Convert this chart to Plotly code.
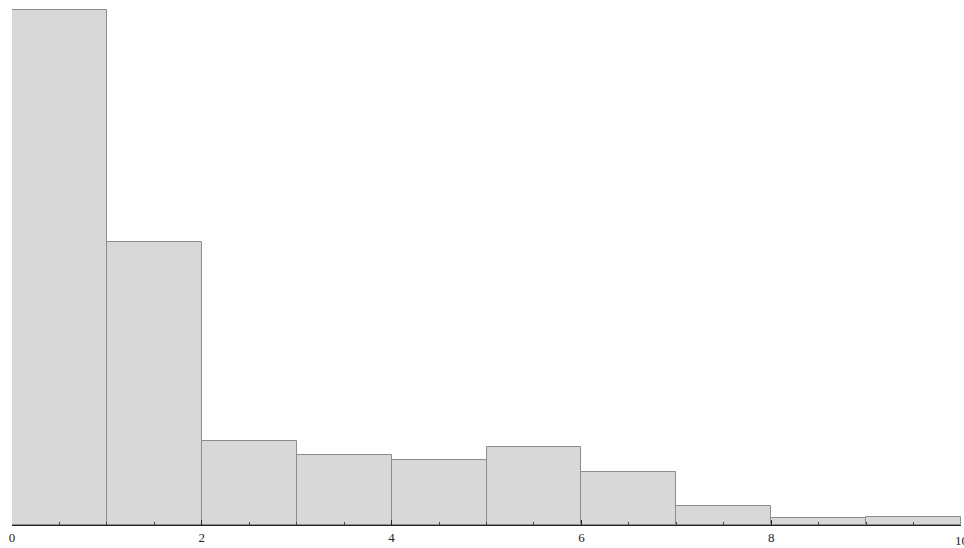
import plotly.graph_objects as go

bin_starts = [0, 1, 2, 3, 4, 5, 6, 7, 8, 9]
bin_width = 1
counts = [515.5, 283, 84, 70, 65, 78, 53, 19.5, 7, 8.5]
tick_values = [0, 2, 4, 6, 8, 10]
tick_labels = ["0", "2", "4", "6", "8", "10"]

centers = [s + bin_width / 2 for s in bin_starts]
font = dict(family="Liberation Serif", size=13, color="#222222")

fig = go.Figure(
    go.Bar(
        x=centers,
        y=counts,
        width=[bin_width] * len(centers),
        marker=dict(color="#d8d8d8", line=dict(color="#8c8c8c", width=1)),
        hoverinfo="skip",
    )
)

# the last label sits at the right edge and is partly cut off, as in the reference
fig.add_annotation(
    x=tick_values[-1], y=0, xref="x", yref="paper",
    text=tick_labels[-1], showarrow=False,
    xanchor="center", yanchor="top", yshift=-6, font=font,
)

fig.update_layout(
    width=964,
    height=548,
    margin=dict(l=12, r=3, t=0, b=23),
    paper_bgcolor="white",
    plot_bgcolor="white",
    bargap=0,
    showlegend=False,
    xaxis=dict(
        range=[0, 10],
        tickvals=tick_values[:-1],
        ticktext=tick_labels[:-1],
        ticks="inside",
        ticklen=5,
        tickcolor="#222222",
        tickwidth=1,
        showline=True,
        linecolor="#222222",
        linewidth=1,
        showgrid=False,
        zeroline=False,
        tickfont=font,
        minor=dict(dtick=0.5, tick0=0, ticks="inside", ticklen=3, tickcolor="#444444", showgrid=False),
    ),
    yaxis=dict(
        range=[0, 525],
        visible=False,
        showgrid=False,
        zeroline=False,
    ),
)

fig.write_html(
    "out.html",
    config={"displayModeBar": False},
    post_script="document.body.style.margin='0';document.body.style.overflow='hidden';",
)
